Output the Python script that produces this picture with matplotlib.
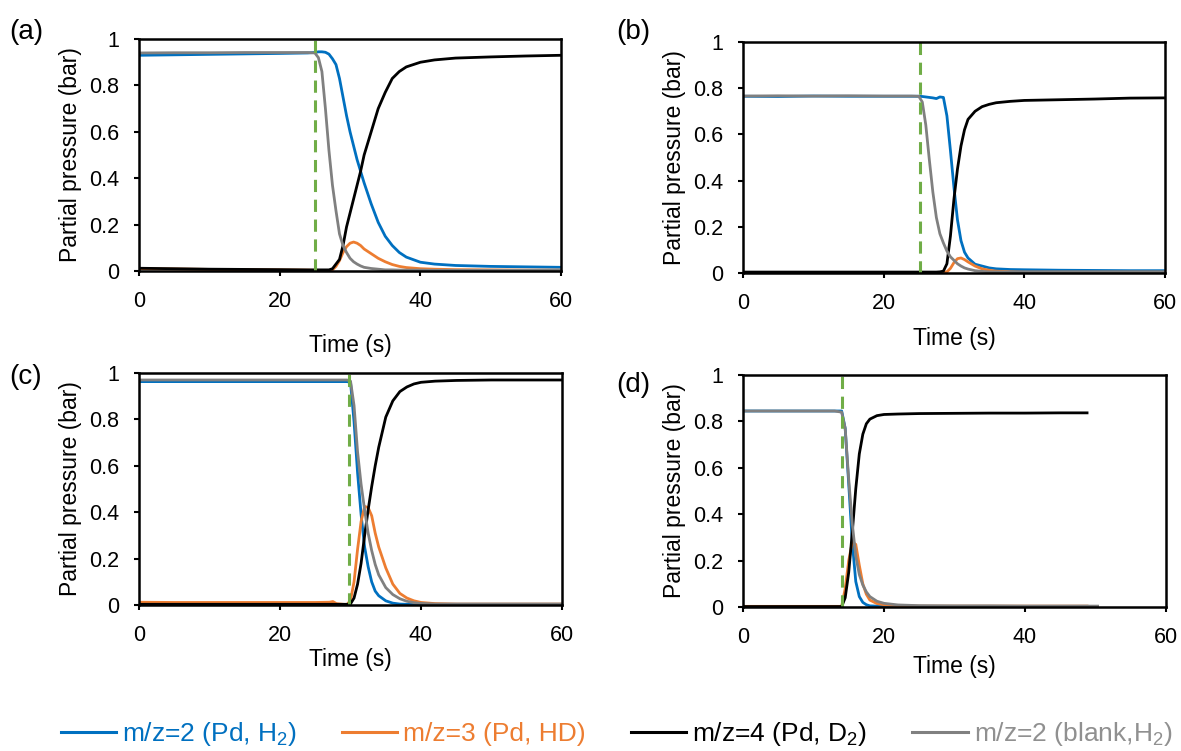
import matplotlib
matplotlib.use("Agg")
import matplotlib.pyplot as plt
import numpy as np
from matplotlib.lines import Line2D

plt.rcParams['font.family'] = ['Liberation Sans', 'DejaVu Sans']
plt.rcParams['mathtext.fontset'] = 'custom'
plt.rcParams['mathtext.rm'] = 'Liberation Sans'
plt.rcParams['mathtext.it'] = 'Liberation Sans:italic'

# ---- data (time in s, partial pressure in bar) ----
# panel (a)
t_a = [0, 5, 10, 15, 20, 24, 25, 25.5, 26, 26.5, 27, 27.5, 28, 28.5, 29, 29.5, 30, 30.5,
       31, 31.5, 32, 33, 34, 35, 36, 37, 38, 40, 42, 45, 50, 55, 60]
h2_a = [0.93, 0.932, 0.934, 0.936, 0.938, 0.94, 0.942, 0.945, 0.945, 0.943, 0.935, 0.915,
        0.89, 0.83, 0.75, 0.67, 0.60, 0.54, 0.48, 0.43, 0.38, 0.29, 0.21, 0.15, 0.11, 0.08,
        0.06, 0.038, 0.03, 0.024, 0.02, 0.018, 0.016]
hd_a = [0.01, 0.009, 0.007, 0.006, 0.005, 0.004, 0.003, 0.002, 0.002, 0.002, 0.002, 0.005,
        0.02, 0.045, 0.08, 0.105, 0.12, 0.125, 0.12, 0.11, 0.095, 0.075, 0.055, 0.04, 0.028,
        0.02, 0.015, 0.01, 0.008, 0.006, 0.005, 0.004, 0.004]
d2_a = [0.012, 0.01, 0.008, 0.007, 0.006, 0.005, 0.005, 0.005, 0.005, 0.005, 0.005, 0.01,
        0.03, 0.05, 0.11, 0.19, 0.25, 0.31, 0.37, 0.43, 0.50, 0.60, 0.70, 0.77, 0.83, 0.86,
        0.88, 0.90, 0.91, 0.918, 0.923, 0.927, 0.93]
blank_a = [0.94, 0.941, 0.941, 0.942, 0.942, 0.942, 0.94, 0.92, 0.86, 0.70, 0.52, 0.37,
           0.26, 0.16, 0.11, 0.08, 0.055, 0.04, 0.03, 0.022, 0.016, 0.011, 0.008, 0.005,
           0.005, 0.004, 0.004, 0.004, 0.003, 0.003, 0.003, 0.003, 0.003]

# panel (b)
t_b = [0, 5, 10, 15, 20, 24, 25, 25.5, 26, 26.5, 27, 27.5, 28, 28.5, 29, 29.5, 30, 30.5,
       31, 31.5, 32, 33, 34, 35, 36, 38, 40, 45, 50, 55, 60]
h2_b = [0.765, 0.764, 0.766, 0.765, 0.765, 0.765, 0.765, 0.764, 0.762, 0.76, 0.758, 0.755,
        0.762, 0.76, 0.68, 0.53, 0.37, 0.23, 0.14, 0.09, 0.065, 0.038, 0.03, 0.022, 0.018,
        0.015, 0.014, 0.012, 0.011, 0.01, 0.01]
hd_b = [0.002, 0.002, 0.002, 0.002, 0.002, 0.002, 0.002, 0.002, 0.002, 0.002, 0.002, 0.002,
        0.002, 0.003, 0.005, 0.02, 0.045, 0.062, 0.065, 0.058, 0.048, 0.03, 0.018, 0.012,
        0.008, 0.005, 0.004, 0.004, 0.004, 0.004, 0.004]
d2_b = [0.004, 0.004, 0.004, 0.004, 0.004, 0.004, 0.004, 0.004, 0.004, 0.004, 0.004, 0.004,
        0.005, 0.008, 0.04, 0.16, 0.32, 0.45, 0.55, 0.62, 0.665, 0.70, 0.72, 0.73, 0.737,
        0.743, 0.747, 0.75, 0.753, 0.757, 0.758]
blank_b = [0.766, 0.767, 0.766, 0.767, 0.766, 0.766, 0.765, 0.74, 0.64, 0.49, 0.35, 0.24,
           0.17, 0.13, 0.095, 0.07, 0.055, 0.04, 0.03, 0.022, 0.017, 0.01, 0.007, 0.005,
           0.005, 0.004, 0.004, 0.004, 0.004, 0.004, 0.004]

# panel (c)
t_c = [0, 5, 10, 15, 20, 25, 27, 27.5, 28, 29, 29.5, 30, 30.5, 31, 31.5, 32, 32.5, 33, 33.5,
       34, 35, 36, 37, 38, 39, 40, 42, 45, 50, 55, 60]
h2_c = [0.963, 0.963, 0.963, 0.963, 0.963, 0.963, 0.963, 0.963, 0.963, 0.963, 0.963, 0.96,
        0.79, 0.57, 0.39, 0.25, 0.165, 0.10, 0.06, 0.04, 0.018, 0.008, 0.004, 0.003, 0.003,
        0.003, 0.003, 0.003, 0.003, 0.003, 0.003]
hd_c = [0.012, 0.011, 0.011, 0.011, 0.011, 0.011, 0.012, 0.015, 0.006, 0.003, 0.002, 0.02,
        0.10, 0.24, 0.36, 0.425, 0.42, 0.385, 0.31, 0.25, 0.16, 0.09, 0.05, 0.03, 0.018,
        0.011, 0.006, 0.004, 0.004, 0.004, 0.004]
d2_c = [0.003, 0.003, 0.003, 0.003, 0.003, 0.003, 0.003, 0.003, 0.003, 0.003, 0.003, 0.005,
        0.03, 0.09, 0.18, 0.30, 0.41, 0.51, 0.60, 0.68, 0.81, 0.88, 0.92, 0.94, 0.953,
        0.96, 0.965, 0.968, 0.97, 0.97, 0.97]
blank_c = [0.97, 0.97, 0.97, 0.97, 0.97, 0.97, 0.97, 0.97, 0.97, 0.97, 0.97, 0.965,
           0.86, 0.66, 0.52, 0.41, 0.31, 0.235, 0.175, 0.13, 0.075, 0.045, 0.027, 0.016,
           0.01, 0.007, 0.004, 0.004, 0.004, 0.004, 0.004]

# panel (d) -- Pd runs stop at 49 s, blank at 50.5 s
t_d = [0, 5, 10, 13, 14, 14.5, 15, 15.5, 16, 16.5, 17, 17.5, 18, 19, 20, 22, 25, 30, 35,
       40, 45, 49, 50.5]
h2_d = [0.845, 0.845, 0.845, 0.845, 0.845, 0.77, 0.53, 0.28, 0.11, 0.045, 0.02, 0.01,
        0.005, 0.004, 0.003, 0.003, 0.003, 0.003, 0.003, 0.003, 0.003, 0.003, np.nan]
hd_d = [0.003, 0.003, 0.003, 0.003, 0.003, 0.08, 0.20, 0.28, 0.27, 0.18, 0.10, 0.055,
        0.03, 0.015, 0.01, 0.006, 0.004, 0.004, 0.004, 0.004, 0.004, 0.004, np.nan]
d2_d = [0.002, 0.002, 0.002, 0.002, 0.002, 0.04, 0.15, 0.32, 0.51, 0.66, 0.745, 0.79,
        0.81, 0.825, 0.83, 0.832, 0.834, 0.835, 0.836, 0.836, 0.837, 0.837, np.nan]
blank_d = [0.845, 0.845, 0.845, 0.845, 0.84, 0.77, 0.55, 0.36, 0.22, 0.14, 0.095, 0.065,
           0.045, 0.025, 0.016, 0.009, 0.006, 0.005, 0.005, 0.004, 0.004, 0.004, 0.004]

switch_times = [25, 25.2, 29.8, 14.0]   # green dashed gas-switch markers
panel_letters = ['(a)', '(b)', '(c)', '(d)']

x_ticks = [0, 20, 40, 60]
y_ticks = [0, 0.2, 0.4, 0.6, 0.8, 1.0]
y_ticklabels = ['0', '0.2', '0.4', '0.6', '0.8', '1']

labels = ['m/z=2 (Pd, H$_2$)', 'm/z=3 (Pd, HD)', 'm/z=4 (Pd, D$_2$)', 'm/z=2 (blank,H$_2$)']
colors = ['#0070C0', '#ED7D31', '#000000', '#808080']
legend_text_colors = ['#0070C0', '#ED7D31', '#000000', '#909090']

panels = [
    (t_a, [h2_a, hd_a, d2_a, blank_a]),
    (t_b, [h2_b, hd_b, d2_b, blank_b]),
    (t_c, [h2_c, hd_c, d2_c, blank_c]),
    (t_d, [h2_d, hd_d, d2_d, blank_d]),
]

# axes rectangles in figure fraction (left, bottom, width, height)
rects = [
    (0.1177, 0.6391, 0.3574, 0.3089),
    (0.6291, 0.6365, 0.3573, 0.3076),
    (0.1177, 0.1944, 0.3582, 0.3089),
    (0.6291, 0.1917, 0.3582, 0.3089),
]
letter_pos = [(0.008, 0.957), (0.522, 0.958), (0.008, 0.498), (0.522, 0.488)]
xlabel_pads = [16, 10, 2, 5]

fig = plt.figure(figsize=(11.81, 7.51), dpi=100)

for i, (t, series) in enumerate(panels):
    ax = fig.add_axes(rects[i])
    for k in [0, 1, 2, 3]:
        ax.plot(t, series[k], color=colors[k], lw=2.0, solid_capstyle='butt')
    ax.axvline(switch_times[i], color='#70AD47', lw=2.2, ls=(0, (4, 2.5)))
    ax.set_xlim(0, 60)
    ax.set_ylim(0, 1)
    ax.set_xticks(x_ticks)
    ax.set_yticks(y_ticks)
    ax.set_yticklabels(y_ticklabels)
    ax.tick_params(direction='out', length=3.6, width=1.5, labelsize=15.5)
    ax.tick_params(axis='y', pad=10.5)
    ax.tick_params(axis='x', pad=10.5)
    for sp in ax.spines.values():
        sp.set_linewidth(1.8)
    ax.set_xlabel('Time (s)', fontsize=16.5, labelpad=xlabel_pads[i])
    ax.set_ylabel('Partial pressure (bar)', fontsize=16.5, labelpad=5)
    fig.text(letter_pos[i][0], letter_pos[i][1], panel_letters[i], fontsize=20,
             ha='left', va='center')

handles = [Line2D([], [], color=c, lw=2.2) for c in colors]
leg = fig.legend(handles, labels, loc='lower center', bbox_to_anchor=(0.522, -0.028),
                 ncol=4, frameon=False, fontsize=19, handlelength=2.1,
                 handletextpad=0.23, columnspacing=1.7)
for txt, c in zip(leg.get_texts(), legend_text_colors):
    txt.set_color(c)

fig.savefig('out.png', dpi=100)
